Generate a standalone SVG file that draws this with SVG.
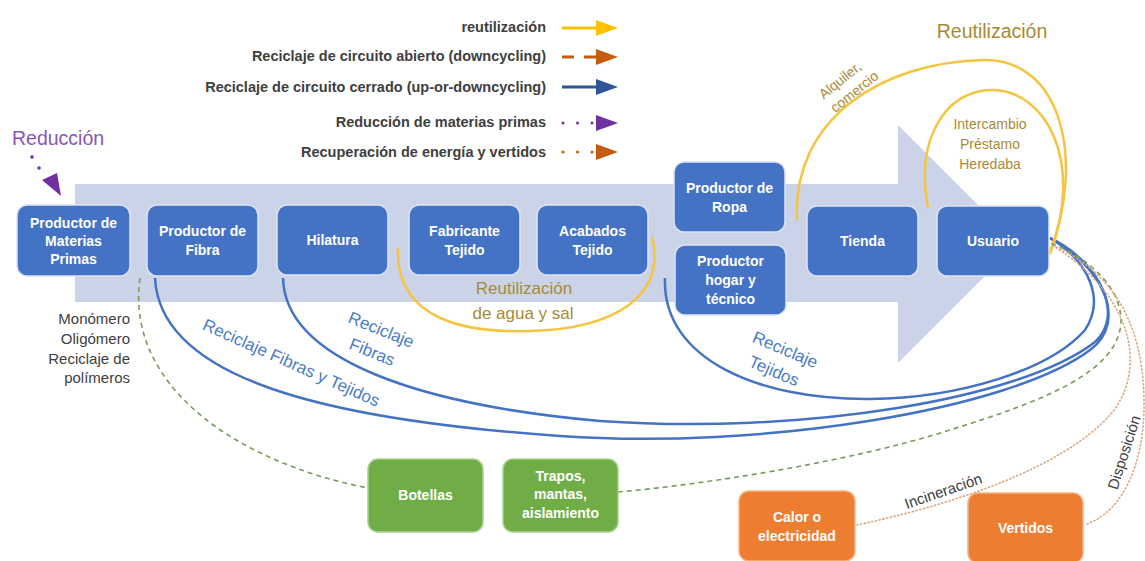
<svg xmlns="http://www.w3.org/2000/svg" width="1145" height="561" viewBox="0 0 1145 561">
<style>
text{font-family:"Liberation Sans",Arial,sans-serif}
.nb{fill:#4472c4;stroke:#dbe3f3;stroke-width:1.5}
.ng{fill:#70ad47;stroke:#a9d18e;stroke-width:1.5}
.no{fill:#ed7d31;stroke:#f4b183;stroke-width:1.5}
.nt{fill:#ffffff;font-size:14px;font-weight:bold;text-anchor:middle}
.lg{fill:#404040;font-size:14.5px;font-weight:bold;text-anchor:end}
.blue{fill:none;stroke:#4472c4;stroke-width:2.5}
.yel{fill:none;stroke:#f5c542;stroke-width:2.5}
.gd{fill:none;stroke:#7a9a5a;stroke-width:1.6;stroke-dasharray:5 4}
.od{fill:none;stroke:#d9a882;stroke-width:1.6;stroke-dasharray:1.2 2.6;stroke-linecap:round}
.bl{fill:#4a7cc4;font-size:17px;text-anchor:middle}
.gold{fill:#a88a34;text-anchor:middle}
.dk{fill:#404040;font-size:15px}
</style>

<path id="band" d="M75,184 H898 V125 L1017,244 L898,363 V302 H75 Z" fill="#cbd3e8"/>

<g id="legend">
  <text class="lg" x="546" y="32">reutilización</text>
  <text class="lg" x="546" y="61">Reciclaje de circuito abierto (downcycling)</text>
  <text class="lg" x="546" y="92">Reciclaje de circuito cerrado (up-or-downcycling)</text>
  <text class="lg" x="546" y="127">Reducción de materias primas</text>
  <text class="lg" x="546" y="157">Recuperación de energía y vertidos</text>
  <line x1="562" y1="28" x2="598" y2="28" stroke="#ffc000" stroke-width="3"/>
  <polygon points="596,20 618,28 596,36" fill="#ffc000"/>
  <line x1="562" y1="57" x2="598" y2="57" stroke="#c55a11" stroke-width="3" stroke-dasharray="12 10"/>
  <polygon points="596,49 618,57 596,65" fill="#c55a11"/>
  <line x1="562" y1="87" x2="598" y2="87" stroke="#2f5597" stroke-width="3"/>
  <polygon points="596,79 618,87 596,95" fill="#2f5597"/>
  <line x1="563" y1="123" x2="595" y2="123" stroke="#7030a0" stroke-width="3" stroke-dasharray="0 14.5" stroke-linecap="round"/>
  <polygon points="596,115 618,123 596,131" fill="#7030a0"/>
  <line x1="563" y1="152" x2="595" y2="152" stroke="#c55a11" stroke-width="3" stroke-dasharray="0 14.5" stroke-linecap="round"/>
  <polygon points="596,144 618,152 596,160" fill="#c55a11"/>
</g>

<g id="connectors">
  <!-- blue closed-loop recycling -->
  <path class="blue" d="M155,278 C160,380 330,420 560,436 C760,450 1010,410 1090,350 C1130,320 1100,265 1050,238"/>
  <path class="blue" d="M283,278 C285,360 420,405 600,421 C800,435 1020,400 1095,342 C1125,315 1100,262 1050,238"/>
  <path class="blue" d="M665,278 C662,360 760,400 870,399 C960,398 1050,370 1085,330 C1105,300 1090,262 1050,238"/>
  <!-- yellow reuse -->
  <path class="yel" d="M797,220 C792,120 880,62 985,60 C1062,60 1085,160 1050,252"/>
  <path class="yel" d="M928,208 C915,140 945,90 992,90 C1045,90 1085,160 1050,254"/>
  <path class="yel" d="M398,248 C395,322 470,333 530,331 C612,329 667,298 652,236"/>
  <!-- green dashed -->
  <path class="gd" d="M140,278 C125,385 235,462 368,488"/>
  <path class="gd" d="M618,492 C700,485 850,462 950,430 C1040,402 1110,375 1120,330 C1128,290 1085,255 1050,243"/>
  <!-- dotted energy / landfill -->
  <path class="od" d="M857,525 C950,505 1060,470 1110,415 C1145,375 1140,300 1052,245"/>
  <path class="od" d="M1087,524 C1125,510 1145,460 1144,400 C1143,320 1110,270 1052,245"/>
  <!-- reduction arrow -->
  <circle cx="32" cy="157" r="1.8" fill="#7030a0"/>
  <circle cx="39" cy="168" r="1.8" fill="#7030a0"/>
  <polygon points="42,180 57,173 61,196" fill="#7030a0"/>
</g>

<g id="n-materias"><rect class="nb" x="17" y="205" width="113" height="71" rx="10"/>
  <text class="nt" x="73.5" y="228">Productor de</text><text class="nt" x="73.5" y="246">Materias</text><text class="nt" x="73.5" y="264">Primas</text></g>
<g id="n-fibra"><rect class="nb" x="147" y="205" width="111" height="71" rx="10"/>
  <text class="nt" x="202.5" y="236">Productor de</text><text class="nt" x="202.5" y="255">Fibra</text></g>
<g id="n-hilatura"><rect class="nb" x="277" y="205" width="111" height="70" rx="10"/>
  <text class="nt" x="332.5" y="245">Hilatura</text></g>
<g id="n-fabricante"><rect class="nb" x="409" y="205" width="111" height="70" rx="10"/>
  <text class="nt" x="464.5" y="236">Fabricante</text><text class="nt" x="464.5" y="255">Tejido</text></g>
<g id="n-acabados"><rect class="nb" x="537" y="205" width="111" height="70" rx="10"/>
  <text class="nt" x="592.5" y="236">Acabados</text><text class="nt" x="592.5" y="255">Tejido</text></g>
<g id="n-ropa"><rect class="nb" x="674" y="162" width="111" height="70" rx="10"/>
  <text class="nt" x="729.5" y="193">Productor de</text><text class="nt" x="729.5" y="212">Ropa</text></g>
<g id="n-hogar"><rect class="nb" x="675" y="245" width="111" height="70" rx="10"/>
  <text class="nt" x="730.5" y="266">Productor</text><text class="nt" x="730.5" y="285">hogar y</text><text class="nt" x="730.5" y="304">técnico</text></g>
<g id="n-tienda"><rect class="nb" x="807" y="206" width="111" height="70" rx="10"/>
  <text class="nt" x="862.5" y="246">Tienda</text></g>
<g id="n-usuario"><rect class="nb" x="937" y="206" width="112" height="70" rx="10"/>
  <text class="nt" x="993" y="246">Usuario</text></g>
<g id="n-botellas"><rect class="ng" x="368" y="459" width="115" height="73" rx="10"/>
  <text class="nt" x="425.5" y="500">Botellas</text></g>
<g id="n-trapos"><rect class="ng" x="503" y="459" width="115" height="73" rx="10"/>
  <text class="nt" x="560.5" y="481">Trapos,</text><text class="nt" x="560.5" y="499">mantas,</text><text class="nt" x="560.5" y="518">aislamiento</text></g>
<g id="n-calor"><rect class="no" x="739" y="491" width="116" height="70" rx="10"/>
  <text class="nt" x="797" y="522">Calor o</text><text class="nt" x="797" y="541">electricidad</text></g>
<g id="n-vertidos"><rect class="no" x="968" y="493" width="115" height="70" rx="10"/>
  <text class="nt" x="1025.5" y="533">Vertidos</text></g>

<g id="labels">
  <text x="12" y="145" fill="#8a55b8" font-size="19.5">Reducción</text>
  <text class="gold" x="992" y="38" font-size="19.5">Reutilización</text>
  <text class="gold" x="990" y="129" font-size="14">Intercambio</text>
  <text class="gold" x="990" y="149" font-size="14">Préstamo</text>
  <text class="gold" x="990" y="169" font-size="14">Heredaba</text>
  <g transform="translate(843,84) rotate(-39)"><text class="gold" x="0" y="0" font-size="14">Alquiler,</text><text class="gold" x="4" y="18" font-size="14">comercio</text></g>
  <text class="gold" x="524" y="294" font-size="17">Reutilización</text>
  <text class="gold" x="523" y="319" font-size="17">de agua y sal</text>
  <text class="dk" x="130" y="324" text-anchor="end">Monómero</text>
  <text class="dk" x="130" y="344" text-anchor="end">Oligómero</text>
  <text class="dk" x="130" y="364" text-anchor="end">Reciclaje de</text>
  <text class="dk" x="130" y="383" text-anchor="end">polímeros</text>
  <text class="bl" transform="translate(289,368) rotate(24)" x="0" y="0" font-size="17.5">Reciclaje Fibras y Tejidos</text>
  <g transform="translate(379,335) rotate(22)"><text class="bl" x="0" y="0">Reciclaje</text><text class="bl" x="0" y="24">Fibras</text></g>
  <g transform="translate(783,355) rotate(23)"><text class="bl" x="0" y="0">Reciclaje</text><text class="bl" x="-2" y="24">Tejidos</text></g>
  <text class="dk" transform="translate(945,496) rotate(-19)" text-anchor="middle" font-size="14">Incineración</text>
  <text class="dk" transform="translate(1129,454) rotate(-72)" text-anchor="middle" font-size="14">Disposición</text>
</g>
</svg>
